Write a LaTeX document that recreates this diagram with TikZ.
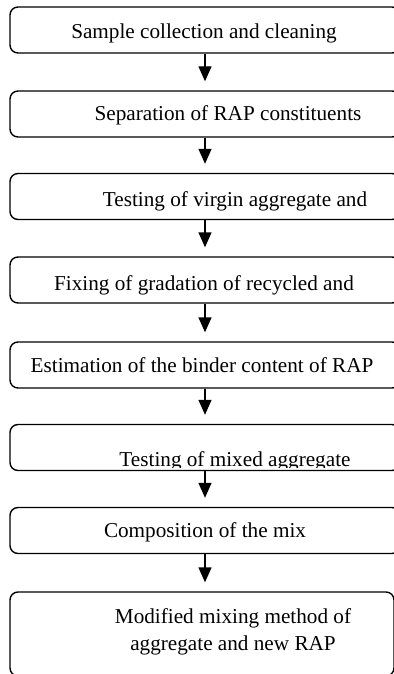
\documentclass[tikz,border=0pt]{standalone}
\usepackage{fontspec}
\setmainfont{Liberation Serif}
\usetikzlibrary{arrows.meta}

\tikzset{
  stage/.style={draw, line width=0.7pt, rounded corners=4pt, inner sep=0pt,
    minimum width=195pt, minimum height=23pt},
  lbl/.style={anchor=base, inner sep=0pt, font=\fontsize{10.6}{13}\selectfont},
  flow/.style={line width=0.7pt, -{Triangle[length=7.5pt,width=6.5pt]}, shorten >=4.5pt}
}

\begin{document}
\begin{tikzpicture}[x=0.5pt, y=-0.5pt]
		\useasboundingbox (0,0) rectangle (394,674);
		\clip (0,0) rectangle (394,674);

		% boxes, the right side runs off the page
		\node[stage] (b1) at (205,30) {};
		\node[stage] (b2) at (205,114) {};
		\node[stage] (b3) at (205,196.5) {};
		\node[stage] (b4) at (205,280) {};
		\node[stage] (b5) at (205,365) {};
		\node[stage] (b6) at (205,447.5) {};
		\node[stage] (b7) at (205,530.5) {};
		\node[stage, minimum width=192pt, minimum height=42pt] (b8) at (202,634) {};

		\node[lbl] (t1) at (204,39) {Sample collection and cleaning};
		\node[lbl] (t2) at (228,120) {Separation of RAP constituents};
		\begin{scope}
			\clip (0,173) rectangle (394,210);
			\node[lbl] (t3) at (235,206) {Testing of virgin aggregate and};
		\end{scope}
		\node[lbl] (t4) at (204,290) {Fixing of gradation of recycled and};
		\node[lbl] (t5) at (202,372) {Estimation of the binder content of RAP};
		\begin{scope}
			\clip (0,425) rectangle (394,467.5);
			\node[lbl] (t6) at (235,466) {Testing of mixed aggregate};
		\end{scope}
		\node[lbl] (t7) at (205,537) {Composition of the mix};
		\node[lbl] (t8a) at (233,623) {Modified mixing method of};
		\node[lbl] (t8b) at (233,650) {aggregate and new RAP};

		\draw[flow] (b1) -- (b2);
		\draw[flow] (b2) -- (b3);
		\draw[flow] (b3) -- (b4);
		\draw[flow] (b4) -- (b5);
		\draw[flow] (b5) -- (b6);
		\draw[flow] (b6) -- (b7);
		\draw[flow] (b7.south) -- (b7.south |- b8.north);
	\end{tikzpicture}
\end{document}
